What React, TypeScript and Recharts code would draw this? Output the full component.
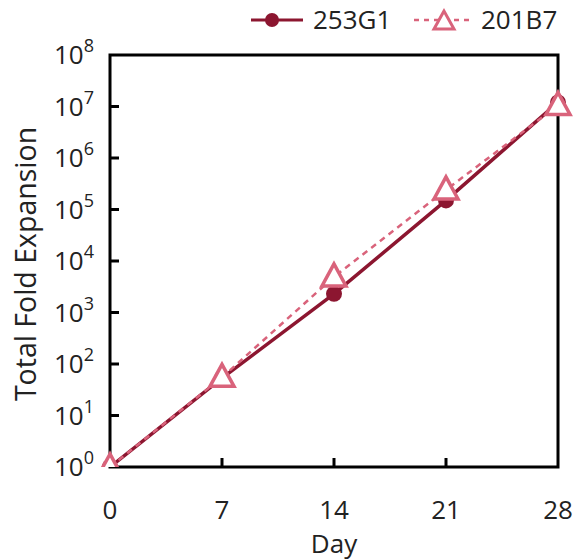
import React from "react";
import { LineChart, Line, XAxis, YAxis, ReferenceArea, Label } from "recharts";

const days = [0, 7, 14, 21, 28];
const g253 = [1, 53, 2300, 1.5e5, 1.2e7];
const b201 = [1, 55, 4900, 2.4e5, 1.05e7];
const yTicks = [1, 10, 100, 1e3, 1e4, 1e5, 1e6, 1e7, 1e8];
const seriesNames = ["253G1", "201B7"];

const DARK = "#8c1630";
const PINK = "#d9637b";
const FONT = "'Open Sans', 'Noto Sans', sans-serif";

const data = days.map((d, i) => ({ day: d, g253: g253[i], b201: b201[i] }));

const YTick = (props: any) => {
  const { x, y, payload } = props;
  const exp = Math.round(Math.log10(payload.value));
  return (
    <g>
      {exp > 0 && exp < 8 && <line x1={x} y1={y} x2={x + 9} y2={y} stroke="#000" strokeWidth={3} />}
      <text x={x - 16} y={y + 9} textAnchor="end" fontSize={26} fill="#222" fontFamily={FONT}>
        10
        <tspan dy={-12} fontSize={18}>
          {exp}
        </tspan>
      </text>
    </g>
  );
};

const XTick = (props: any) => {
  const { x, y, payload } = props;
  return (
    <g>
      {payload.value > 0 && payload.value < 28 && (
        <line x1={x} y1={y} x2={x} y2={y - 9} stroke="#000" strokeWidth={3} />
      )}
      <text x={x} y={y + 52} textAnchor="middle" fontSize={26} fill="#222" fontFamily={FONT}>
        {payload.value}
      </text>
    </g>
  );
};

const CircleDot = (props: any) => {
  const { cx, cy, index } = props;
  return <circle key={`c-${index}`} cx={cx} cy={cy} r={8} fill={DARK} />;
};

const TriDot = (props: any) => {
  const { cx, cy, index } = props;
  const pts = `${cx},${cy - 13} ${cx - 12},${cy + 9} ${cx + 12},${cy + 9}`;
  return <polygon key={`t-${index}`} points={pts} fill="#fff" stroke={PINK} strokeWidth={3.5} />;
};

const XLabel = (props: any) => {
  const { viewBox } = props;
  return (
    <text
      x={viewBox.x + viewBox.width / 2}
      y={viewBox.y + 86}
      textAnchor="middle"
      fontSize={26}
      fill="#222"
      fontFamily={FONT}
    >
      Day
    </text>
  );
};

const YLabel = (props: any) => {
  const { viewBox } = props;
  const cx = 36;
  const cy = viewBox.y + viewBox.height / 2 + 3;
  return (
    <text
      x={cx}
      y={cy}
      transform={`rotate(-90 ${cx} ${cy})`}
      textAnchor="middle"
      fontSize={28.5}
      fill="#222"
      fontFamily={FONT}
    >
      Total Fold Expansion
    </text>
  );
};

const LegendBox = () => (
  <svg width={578} height={42} style={{ position: "absolute", left: 0, top: 0 }}>
    <line x1={251} y1={20} x2={303} y2={20} stroke={DARK} strokeWidth={3} />
    <circle cx={272} cy={20} r={7} fill={DARK} />
    <text x={313} y={29} fontSize={26} fill="#222" fontFamily={FONT}>
      {seriesNames[0]}
    </text>
    <line x1={414} y1={20} x2={474} y2={20} stroke={PINK} strokeWidth={2.5} strokeDasharray="5 5" />
    <polygon points="444,11 434,29 454,29" fill="#fff" stroke={PINK} strokeWidth={3} />
    <text x={481} y={29} fontSize={26} fill="#222" fontFamily={FONT}>
      {seriesNames[1]}
    </text>
  </svg>
);

export default function App() {
  return (
    <div style={{ position: "absolute", left: 0, top: 0, width: 578, height: 560, background: "#fff" }}>
      <LineChart width={578} height={560} data={data} margin={{ top: 55, right: 20, left: 0, bottom: 0 }}>
        <XAxis
          dataKey="day"
          type="number"
          domain={[0, 28]}
          ticks={days}
          axisLine={false}
          tickLine={false}
          tickSize={0}
          tickMargin={0}
          height={93}
          tick={<XTick />}
          interval={0}
        >
          <Label content={<XLabel />} />
        </XAxis>
        <YAxis
          scale="log"
          domain={[1, 1e8]}
          ticks={yTicks}
          allowDataOverflow
          axisLine={false}
          tickLine={false}
          tickSize={0}
          tickMargin={0}
          width={110}
          tick={<YTick />}
          interval={0}
        >
          <Label content={<YLabel />} />
        </YAxis>
        <ReferenceArea x1={0} x2={28} y1={1} y2={1e8} fill="none" stroke="#000" strokeWidth={3} ifOverflow="visible" />
        <Line
          dataKey="g253"
          name={seriesNames[0]}
          stroke={DARK}
          strokeWidth={3.5}
          dot={<CircleDot />}
          isAnimationActive={false}
        />
        <Line
          dataKey="b201"
          name={seriesNames[1]}
          stroke={PINK}
          strokeWidth={2.5}
          strokeDasharray="6 5"
          dot={<TriDot />}
          isAnimationActive={false}
        />
      </LineChart>
      <LegendBox />
    </div>
  );
}
